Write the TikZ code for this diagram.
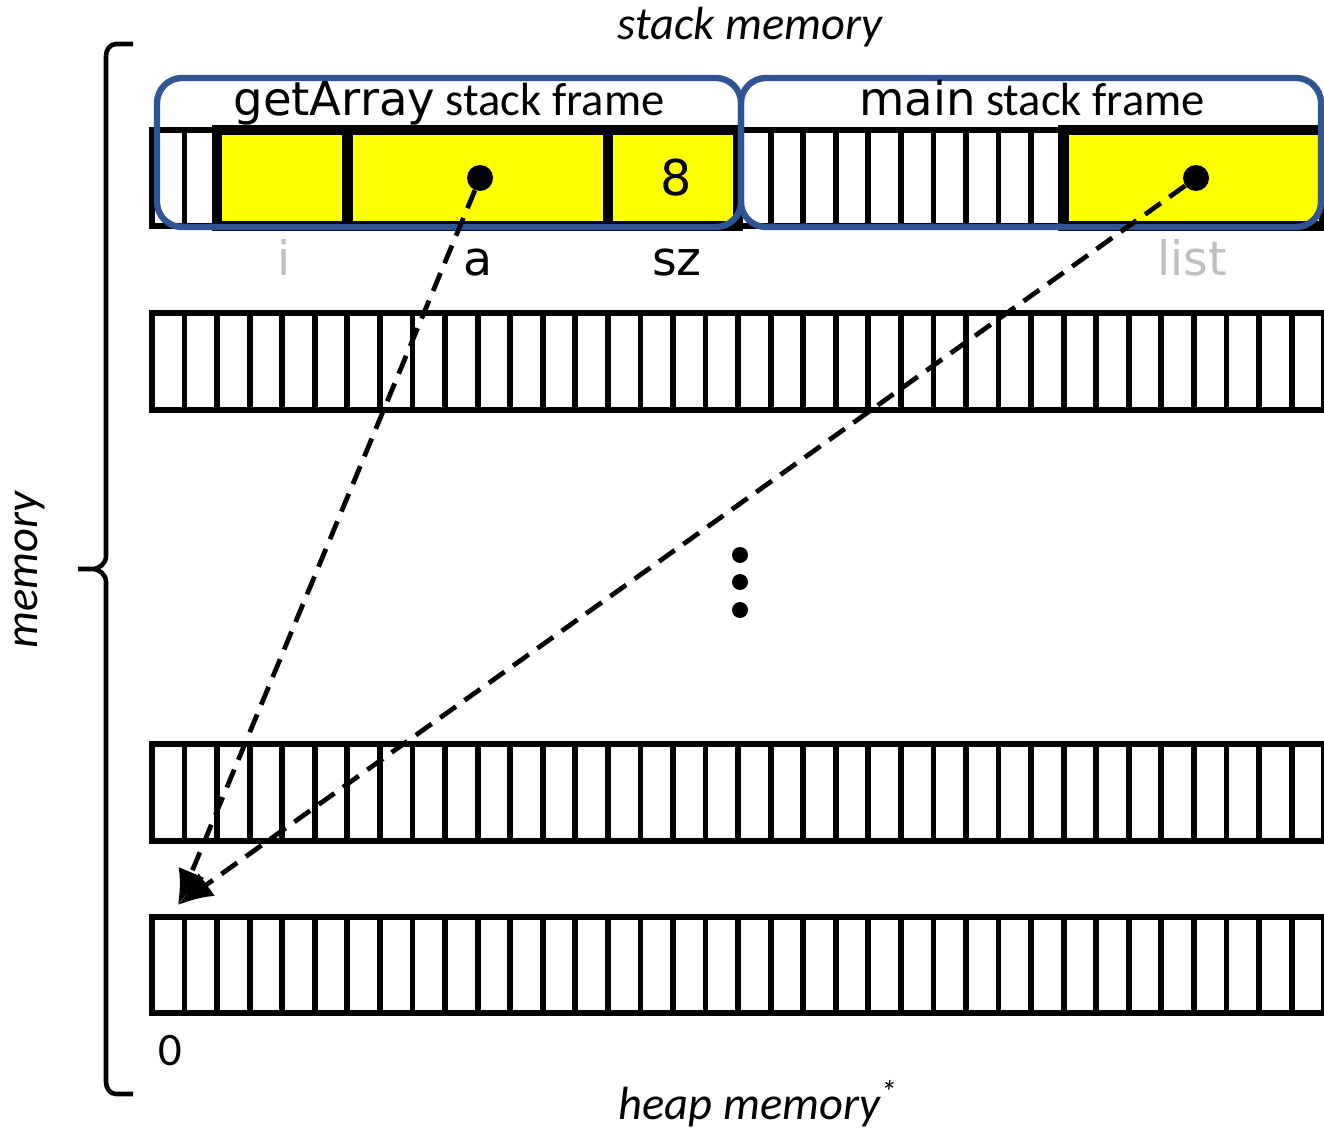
\documentclass[tikz,border=0pt]{standalone}
\usepackage{fontspec}
\setmainfont{Carlito}
\newfontfamily\codefont{DejaVu Sans}
\usetikzlibrary{arrows.meta,positioning}
\definecolor{frameblue}{RGB}{47,85,151}
\definecolor{cellyellow}{RGB}{255,255,0}
\definecolor{lblgray}{RGB}{191,191,191}
\newcommand{\cellw}{32.56}
% one row of memory cells, #1 = top, #2 = bottom
\newcommand{\memrow}[2]{%
  \foreach \k in {1,...,35}
    \draw[sepline] (152+\k*\cellw,#1) -- (152+\k*\cellw,#2);
  \draw[cellline] (152,#1) rectangle (1324,#2);
}

\begin{document}
\begin{tikzpicture}[
                    >={Latex[length=20pt,width=16pt]},
                    x=0.02cm, y=-0.02cm,
                    cellline/.style={line width=3.9pt},
                    sepline/.style={line width=3.3pt},
                    varbox/.style={fill=cellyellow, draw=black, line width=6pt},
                    framebox/.style={draw=frameblue, line width=3.6pt, rounded corners=0.5cm},
                    ptrdot/.style={circle, fill=black, inner sep=0pt, minimum size=0.52cm},
                    vdot/.style={circle, fill=black, inner sep=0pt, minimum size=0.32cm},
                    ptr/.style={->, line width=2.7pt, dash pattern=on 11pt off 6pt},
                    txt/.style={font=\fontsize{26.5}{30}\selectfont},
                    code/.style={font=\fontsize{27}{30}\selectfont\codefont}]

                \useasboundingbox (0,0) rectangle (1324,1131);

                % memory rows
                \memrow{130}{226}
                \memrow{313}{410}
                \memrow{744}{841}
                \memrow{917}{1013}

                % variables on the stack
                \draw[varbox] (152+2*\cellw,130) rectangle (152+6*\cellw,226);
                \draw[varbox] (152+6*\cellw,130) rectangle (152+14*\cellw,226);
                \draw[varbox] (152+14*\cellw,130) rectangle (152+18*\cellw,226);
                \draw[varbox] (152+28*\cellw,130) rectangle (1324,226);

                % stack frames
                \draw[framebox] (157,78) rectangle (741,227);
                \draw[framebox] (741,78) rectangle (1321,227);
                \node[txt, anchor=base] (galbl) at (449,116) {{\codefont getArray} stack frame};
                \node[txt, anchor=base] (mainlbl) at (1032,116) {{\codefont main} stack frame};

                \node[code, font=\fontsize{28}{30}\selectfont\codefont] (eight) at (676,178) {8};
                \node[ptrdot] (adot) at (480,178) {};
                \node[ptrdot] (listdot) at (1196,178) {};

                \node[code, anchor=base, text=lblgray] (ilbl) at (284,276) {i};
                \node[code, anchor=base] (albl) at (478,276) {a};
                \node[code, anchor=base] (szlbl) at (677,276) {sz};
                \node[code, anchor=base, text=lblgray] (listlbl) at (1192,276) {list};

                % the rows in between
                \node[vdot] (dot1) at (740,555) {};
                \node[vdot] (dot2) at (740,582) {};
                \node[vdot] (dot3) at (740,610) {};

                % pointers into the heap
                \coordinate (heaptop) at (178,905);
                \draw[ptr] (adot) -- (heaptop);
                \draw[ptr] (listdot) -- (heaptop);

                \node[txt, anchor=base] (zero) at (170,1065) {0};

                % memory brace
                \draw[line width=2.6pt] (133,44) -- (116,44) to[out=180,in=90] (106,56)
                    -- (106,556) to[out=-90,in=0] (92,569) -- (78,569) -- (92,569)
                    to[out=0,in=90] (106,582) -- (106,1082) to[out=-90,in=180] (116,1094) -- (133,1094);

                \node[txt, rotate=90] (memlbl) at (30,570) {\itshape memory};
                \node[txt, anchor=base] (stackmem) at (750,40) {\itshape stack memory};
                \node[txt, anchor=base] (heapmem) at (758,1119) {\itshape heap memory\textsuperscript{*}};

            \end{tikzpicture}
\end{document}
